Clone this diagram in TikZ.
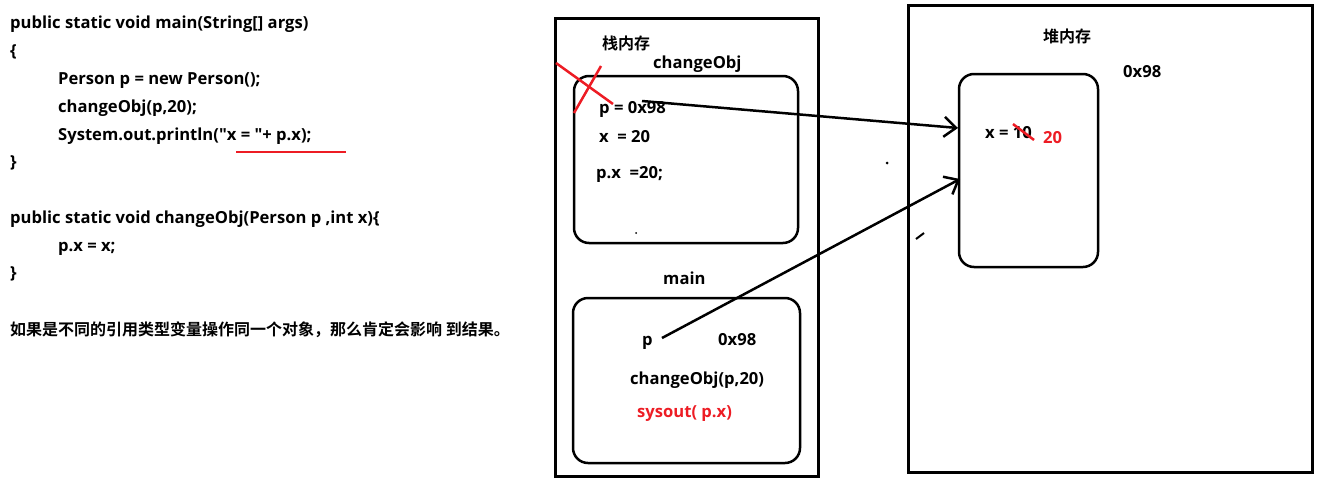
\documentclass[tikz,border=0pt]{standalone}
\usepackage{fontspec}
\setmainfont{Open Sans}[Ligatures=TeXOff]
\newfontfamily\cjk{Noto Sans CJK SC Bold}[Ligatures=TeXOff]
\usetikzlibrary{arrows.meta}
\definecolor{redpen}{RGB}{237,28,36}
\begin{document}
\begin{tikzpicture}[x=1pt,y=-1pt,
  txt/.style={anchor=base west,inner sep=0pt,font=\bfseries\fontsize{16.6}{18}\selectfont},
  ctxt/.style={anchor=base west,inner sep=0pt,font=\cjk\fontsize{16}{18}\selectfont},
  rtxt/.style={txt,text=redpen},
  frame/.style={draw,line width=3pt},
  rframe/.style={draw,line width=2.5pt,rounded corners=15pt},
  ptr/.style={line width=2.5pt,-{Straight Barb[length=12pt,width=20pt,line width=2.5pt]}},
  pen/.style={draw=redpen,line width=2.5pt}]
\useasboundingbox (0,0) rectangle (1319,482);
% code
\node[txt] (c1) at (10,28) {public static void main(String[] args)};
\node[txt] (c2) at (10,56) {\{};
\node[txt] (c3) at (58,84) {Person p = new Person();};
\node[txt] (c4) at (58,112) {changeObj(p,20);};
\node[txt] (c5) at (58,140) {System.out.println("x = "+ p.x);};
\node[txt] (c6) at (10,167) {\}};
\node[txt] (c7) at (10,223) {public static void changeObj(Person p ,int x)\{};
\node[txt] (c8) at (58,251) {p.x = x;};
\node[txt] (c9) at (10,278) {\}};
\node[ctxt] (c10) at (10,335) {如果是不同的引用类型变量操作同一个对象，那么肯定会影响 到结果。};
\coordinate (u1) at (236,152);
\coordinate (u2) at (346,152);
\draw[pen] (u1) -- (u2);
% stack
\node[frame,minimum width=263pt,minimum height=458pt,inner sep=0pt] (stack) at (686.5,247) {};
\node[rframe,minimum width=224pt,minimum height=167pt,inner sep=0pt] (cframe) at (686,159.5) {};
\node[rframe,minimum width=227pt,minimum height=165pt,inner sep=0pt] (mframe) at (686.5,380.5) {};
\node[ctxt] (stl) at (602,49) {栈内存};
\node[txt] (cob) at (653,68) {changeObj};
\node[txt] (cp) at (599,113) {p = 0x98};
\node[txt] (cx) at (599,142) {x\ \ = 20};
\node[txt] (cpx) at (596,178) {p.x\ \ =20;};
\node[txt] (mn) at (663,284) {main};
\node[txt] (mp) at (642,345) {p};
\node[txt] (ma) at (718,345) {0x98};
\node[txt] (mc) at (630,384) {changeObj(p,20)};
\node[rtxt] (ms) at (637,417) {sysout( p.x)};
\fill (636,233) circle (1pt);
% red cross
\coordinate (x1) at (556,63);
\coordinate (x2) at (613,104);
\coordinate (x3) at (601,66);
\coordinate (x4) at (574,113);
\draw[pen] (x1) -- (x2);
\draw[pen] (x3) -- (x4);
% heap
\node[frame,minimum width=404pt,minimum height=467pt,inner sep=0pt] (heap) at (1110,238.5) {};
\node[rframe,minimum width=139pt,minimum height=193pt,inner sep=0pt] (obj) at (1028.5,170.5) {};
\node[ctxt] (hl) at (1043,42) {堆内存};
\node[txt] (ha) at (1123,77) {0x98};
\node[txt] (ox) at (985,138) {x = 10};
\node[rtxt] (o20) at (1043,143) {20};
\coordinate (s1) at (1013,124);
\coordinate (s2) at (1034,140);
\draw[pen] (s1) -- (s2);
\fill (887,163) circle (1.5pt);
\coordinate (m1) at (916,239);
\coordinate (m2) at (924,233);
\draw[line width=2pt] (m1) -- (m2);
% pointers
\coordinate (a1) at (642,101);
\coordinate (t1) at (958,128);
\coordinate (a2) at (662,338);
\coordinate (t2) at (960,179);
\draw[ptr] (a1) -- (t1);
\draw[ptr] (a2) -- (t2);
\end{tikzpicture}
\end{document}
